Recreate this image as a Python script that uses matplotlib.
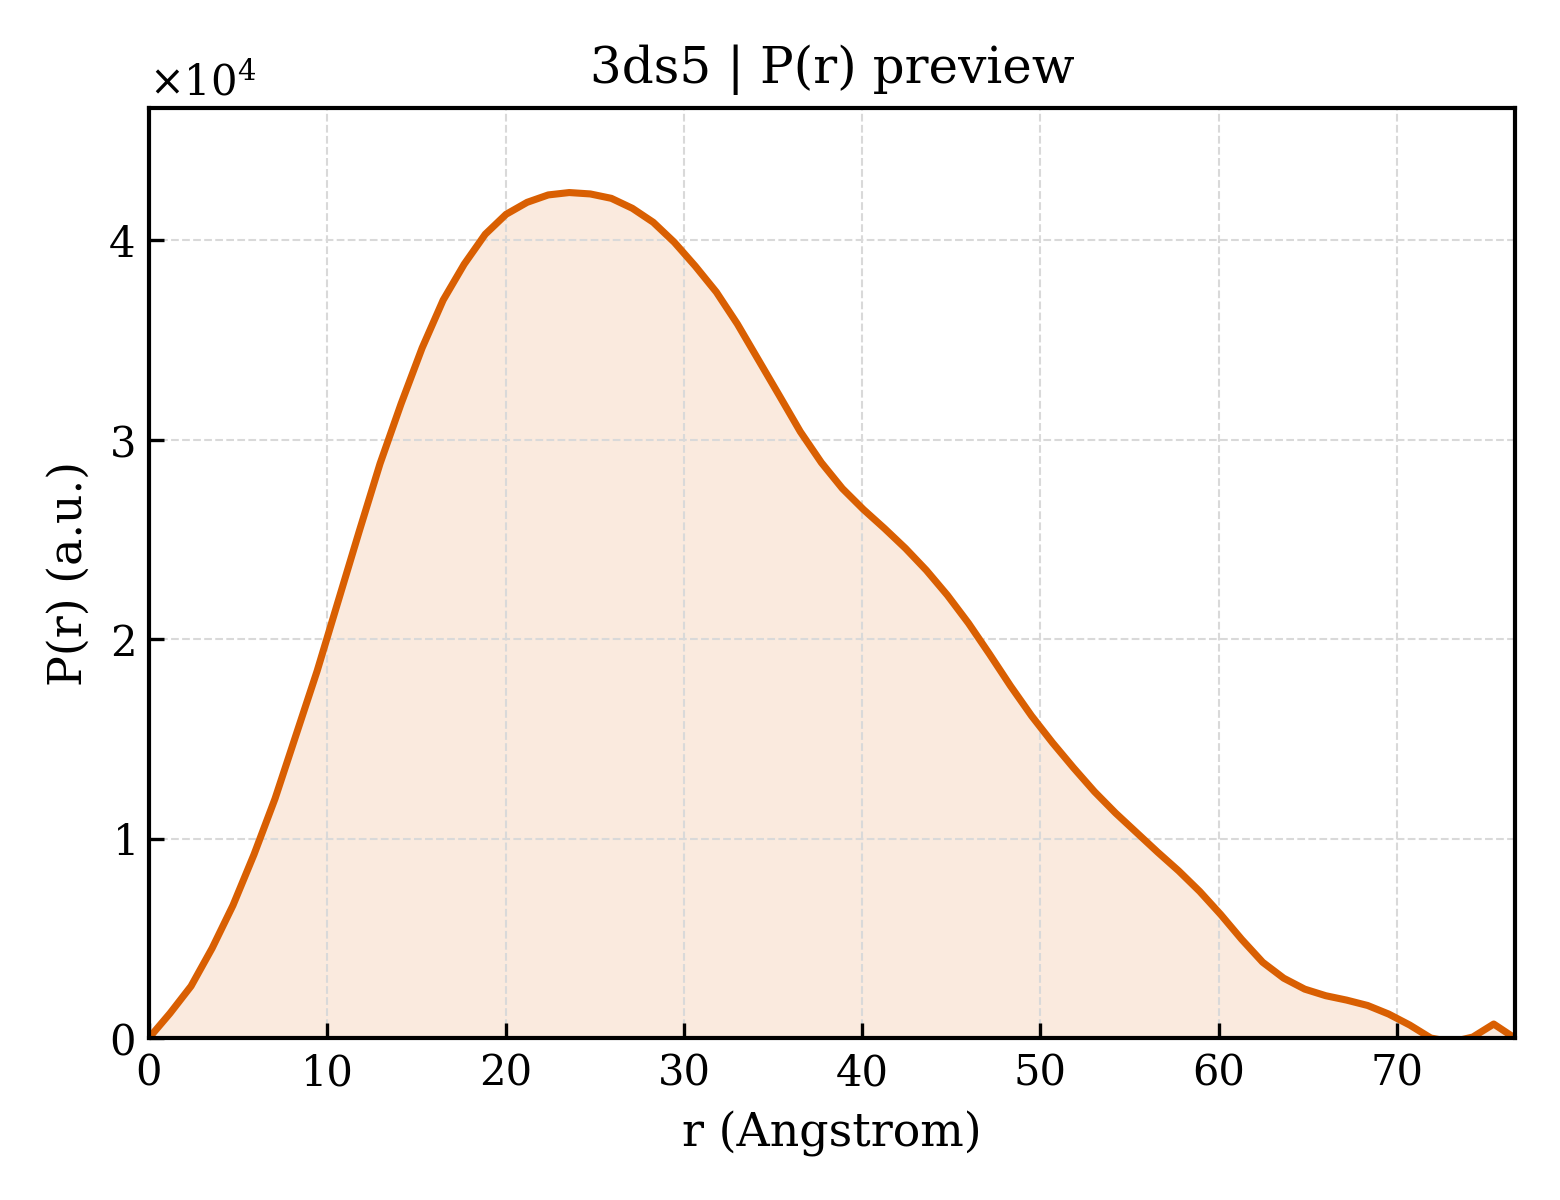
import matplotlib
matplotlib.use("Agg")
import matplotlib.pyplot as plt
import numpy as np

plt.rcParams['font.family'] = ['DejaVu Serif']
plt.rcParams['mathtext.fontset'] = 'dejavuserif'

r = [0.00, 1.18, 2.36, 3.54, 4.71, 5.89, 7.07, 8.25, 9.43, 10.61,
     11.79, 12.96, 14.14, 15.32, 16.50, 17.68, 18.86, 20.03, 21.21, 22.39,
     23.57, 24.75, 25.93, 27.11, 28.28, 29.46, 30.64, 31.82, 33.00, 34.18,
     35.36, 36.53, 37.71, 38.89, 40.07, 41.25, 42.43, 43.60, 44.78, 45.96,
     47.14, 48.32, 49.50, 50.68, 51.85, 53.03, 54.21, 55.39, 56.57, 57.75,
     58.93, 60.10, 61.28, 62.46, 63.64, 64.82, 66.00, 67.17, 68.35, 69.53,
     70.71, 71.89, 73.07, 74.25, 75.42, 76.60]
pr = [0.0, 0.124, 0.26, 0.45, 0.665, 0.92, 1.20, 1.52, 1.84, 2.19,
      2.54, 2.88, 3.18, 3.46, 3.70, 3.88, 4.03, 4.13, 4.19, 4.227,
      4.239, 4.232, 4.21, 4.16, 4.09, 3.99, 3.87, 3.74, 3.58, 3.40,
      3.22, 3.04, 2.885, 2.755, 2.65, 2.555, 2.455, 2.345, 2.22, 2.08,
      1.925, 1.765, 1.615, 1.48, 1.355, 1.235, 1.128, 1.03, 0.932, 0.838,
      0.735, 0.62, 0.495, 0.38, 0.30, 0.245, 0.212, 0.19, 0.163, 0.12,
      0.065, 0.0, -0.02, 0.005, 0.07, 0.0]

r = np.array(r)
pr = np.array(pr) * 1e4

col = '#D95F02'

fig, ax = plt.subplots(figsize=(5.2, 4), dpi=300)
fig.subplots_adjust(left=0.0955, right=0.971, bottom=0.135, top=0.91)

ax.fill_between(r, pr, 0, color=col, alpha=0.13, linewidth=0)
ax.plot(r, pr, color=col, lw=1.7)

ax.set_xlim(0, r.max())
ax.set_ylim(0, pr.max() * 1.1)

ax.set_title('3ds5 | P(r) preview', fontsize=12)
ax.set_xlabel('r (Angstrom)', fontsize=11)
ax.set_ylabel('P(r) (a.u.)', fontsize=11)

ax.ticklabel_format(axis='y', style='sci', scilimits=(0, 0), useMathText=True)
ax.tick_params(direction='in', labelsize=10, length=3.5, width=0.8)
ax.yaxis.get_offset_text().set_fontsize(10)
ax.grid(True, linestyle='--', linewidth=0.5, color='0.85')
for s in ax.spines.values():
    s.set_linewidth(1.0)

plt.savefig('out.png', dpi=300)
